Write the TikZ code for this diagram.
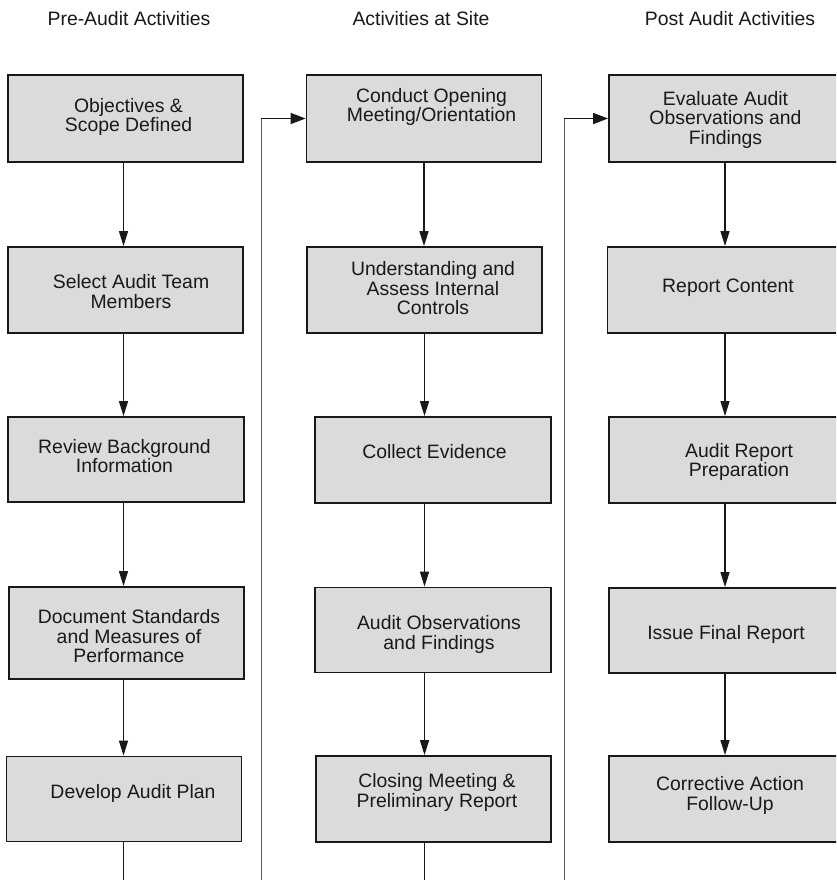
\documentclass[tikz,border=0pt]{standalone}
\usepackage{fontspec}
\setmainfont{Liberation Sans}
\usetikzlibrary{arrows.meta}
\definecolor{boxfill}{RGB}{219,219,219}
\definecolor{ink}{RGB}{25,25,25}
\begin{document}
\begin{tikzpicture}[x=1pt,y=-1pt,
  stepbox/.style={draw=ink,line width=1.8pt,fill=boxfill,minimum width=235pt,inner sep=0pt},
  txt/.style={text=ink,align=center,inner sep=0pt,font=\fontsize{19.4}{19.5}\selectfont},
  head/.style={txt},
  flow/.style={draw=ink,line width=1.3pt,-{Triangle[length=15pt,width=9pt]}},
  tail/.style={draw=ink,line width=1.2pt},
  riser/.style={draw=black!65,line width=1pt},
  back/.style={draw=ink,line width=1.4pt,-{Triangle[length=15pt,width=11pt]}},
]
\useasboundingbox (0,0) rectangle (836,880);
\clip (0,0) rectangle (836,880);
\fill[white] (0,0) rectangle (836,880);

% column headings
\node[head] (h1) at (129,18.3) {Pre-Audit Activities};
\node[head] (h2) at (421,18.3) {Activities at Site};
\node[head] (h3) at (730,18.3) {Post Audit Activities};

% pre-audit column
\node[stepbox,minimum height=87pt] (a1) at (125.5,118.5) {};
\node[stepbox,minimum height=86pt] (a2) at (125.5,290) {};
\node[stepbox,minimum height=85pt,minimum width=236pt] (a3) at (126,459.5) {};
\node[stepbox,minimum height=92pt] (a4) at (126.5,633) {};
\node[stepbox,minimum height=85pt] (a5) at (124,799) {};

% site column
\node[stepbox,minimum height=87pt] (b1) at (424,118.5) {};
\node[stepbox,minimum height=86pt] (b2) at (424.5,290) {};
\node[stepbox,minimum height=86pt,minimum width=236pt] (b3) at (433,460) {};
\node[stepbox,minimum height=85pt,minimum width=236pt] (b4) at (433,630) {};
\node[stepbox,minimum height=86pt] (b5) at (433.5,799) {};

% post-audit column
\node[stepbox,minimum height=87pt] (c1) at (726.5,118.5) {};
\node[stepbox,minimum height=86pt] (c2) at (725,290) {};
\node[stepbox,minimum height=86pt] (c3) at (726.5,460) {};
\node[stepbox,minimum height=85pt] (c4) at (726.5,630.5) {};
\node[stepbox,minimum height=86pt] (c5) at (726.5,799) {};

% box texts
\node[txt] (a1t) at ([xshift=3pt,yshift=1.5pt]a1.center) {Objectives \&\\Scope Defined};
\node[txt] (a2t) at ([xshift=5.5pt,yshift=-1.5pt]a2.center) {Select Audit Team\\Members};
\node[txt] (a3t) at ([xshift=-1.5pt,yshift=3.5pt]a3.center) {Review Background\\Information};
\node[txt] (a4t) at ([xshift=2.5pt,yshift=-3.5pt]a4.center) {Document Standards\\and Measures of\\Performance};
\node[txt] (a5t) at ([xshift=9pt,yshift=5.5pt]a5.center) {Develop Audit Plan};

\node[txt] (b1t) at ([xshift=7.5pt,yshift=11.5pt]b1.center) {Conduct Opening\\Meeting/Orientation};
\node[txt] (b2t) at ([xshift=8.5pt,yshift=1.5pt]b2.center) {Understanding and\\Assess Internal\\Controls};
\node[txt] (b3t) at ([xshift=1.5pt,yshift=8.5pt]b3.center) {Collect Evidence};
\node[txt] (b4t) at ([xshift=6pt,yshift=-4.5pt]b4.center) {Audit Observations\\and Findings};
\node[txt] (b5t) at ([xshift=3.5pt,yshift=6.5pt]b5.center) {Closing Meeting \&\\Preliminary Report};

\node[txt] (c1t) at ([xshift=-1pt,yshift=-1pt]c1.center) {Evaluate Audit\\Observations and\\Findings};
\node[txt] (c2t) at ([xshift=3pt,yshift=2pt]c2.center) {Report Content};
\node[txt] (c3t) at ([xshift=12.5pt,yshift=-2pt]c3.center) {Audit Report\\Preparation};
\node[txt] (c4t) at ([xshift=-0.5pt,yshift=-4pt]c4.center) {Issue Final Report};
\node[txt] (c5t) at ([xshift=3.5pt,yshift=3.5pt]c5.center) {Corrective Action\\Follow-Up};

% flow within each column
\draw[flow] (a1.south -| a2.south) ++(-2,0) coordinate (a12) -- (a12 |- a2.north);
\draw[flow] (a2.south) ++(-2,0) coordinate (a23) -- (a23 |- a3.north);
\draw[flow] (a23 |- a3.south) -- (a23 |- a4.north);
\draw[flow] (a23 |- a4.south) -- (a23 |- a5.north);

\draw[flow] (b1.south) -- (b1.south |- b2.north);
\draw[flow] (b2.south) -- (b2.south |- b3.north);
\draw[flow] (b2.south |- b3.south) -- (b2.south |- b4.north);
\draw[flow] (b2.south |- b4.south) -- (b2.south |- b5.north);

\draw[flow] (c2.south |- c1.south) -- (c2.north);
\draw[flow] (c2.south) -- (c2.south |- c3.north);
\draw[flow] (c2.south |- c3.south) -- (c2.south |- c4.north);
\draw[flow] (c2.south |- c4.south) -- (c2.south |- c5.north);

% hand-over lines between columns
\coordinate (endA) at (261,880);
\coordinate (endB) at (564,880);
\coordinate (turnA) at (endA |- b1.west);
\coordinate (turnB) at (endB |- c1.west);
\draw[tail] (a23 |- a5.south) -- (a23 |- endA);
\draw[tail] (b2.south |- b5.south) -- (b2.south |- endB);
\draw[riser] (endA) -- (turnA);
\draw[riser] (endB) -- (turnB);
\draw[back] ([xshift=-0.5pt]turnA) -- (b1.west);
\draw[back] ([xshift=-0.5pt]turnB) -- (c1.west);
\end{tikzpicture}
\end{document}
